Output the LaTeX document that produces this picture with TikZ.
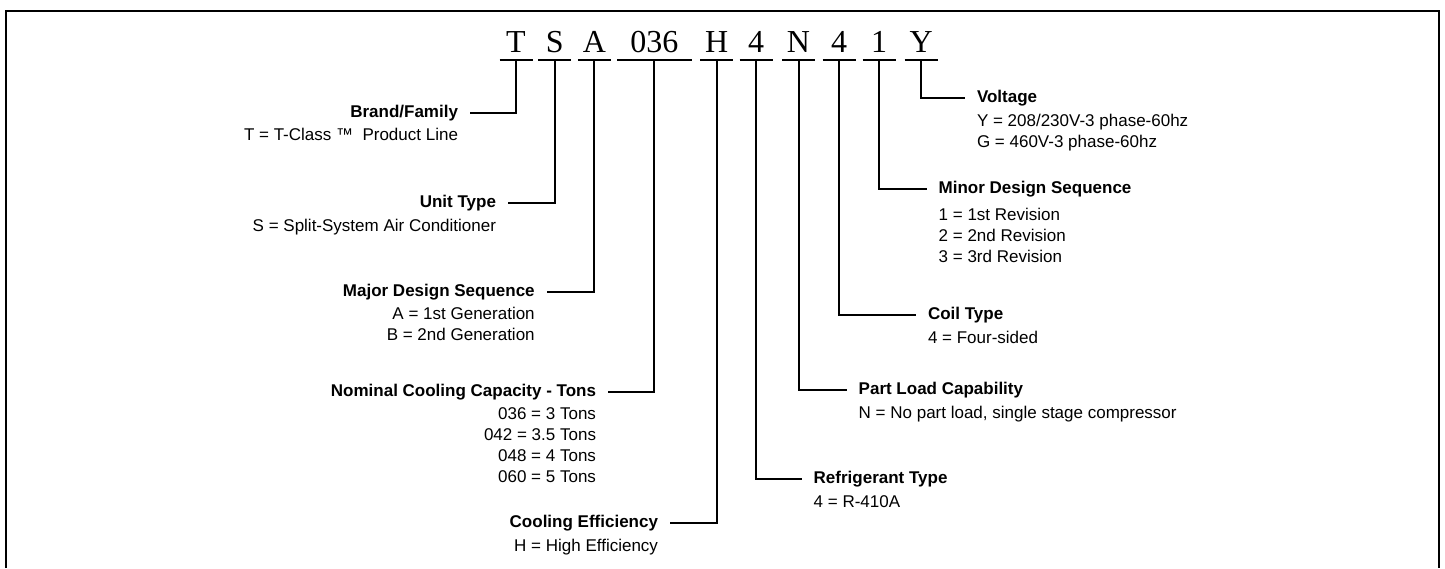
\documentclass[tikz,border=0pt]{standalone}
\usepackage{fontspec}
\setmainfont{Liberation Sans}
\newfontfamily\codefont{Liberation Serif}
\usetikzlibrary{positioning}

\begin{document}
\begin{tikzpicture}[x=0.5pt, y=-0.5pt, line width=1pt,
	digit/.style={font=\codefont\fontsize{16}{18}\selectfont, anchor=base, text depth=0pt, inner xsep=0pt, inner ysep=3.5pt, minimum width=15.5pt},
	title/.style={font=\bfseries\fontsize{8.5}{10.5}\selectfont, text height=6pt, text depth=1.5pt, inner xsep=5.5pt, inner ysep=0pt},
	sub/.style={font=\fontsize{8.5}{10.5}\selectfont, inner xsep=5.5pt, inner ysep=0pt}]
	\useasboundingbox (0,0) rectangle (1445,568);
	\draw (6,568) -- (6,11) -- (1439,11) -- (1439,568);
	% model number
	\node[digit] (cT) at (516,52) {T};
	\node[digit] (cS) at (554.7,52) {S};
	\node[digit] (cA) at (594.3,52) {A};
	\node[digit, minimum width=36.3pt] (cCap) at (654.3,52) {036};
	\node[digit] (cH) at (716.7,52) {H};
	\node[digit] (cR) at (756,52) {4};
	\node[digit] (cN) at (798.5,52) {N};
	\node[digit] (cC) at (839,52) {4};
	\node[digit] (cM) at (879.2,52) {1};
	\node[digit] (cY) at (921.2,52) {Y};
	\foreach \n in {cT,cS,cA,cCap,cH,cR,cN,cC,cM,cY}
		\draw (\n.south west) -- (\n.south east);
	% left side
	\node[title, anchor=east] (brand) at (470,112.5) {Brand/Family};
	\node[sub, below left=3.3pt and 0pt of brand.south east] (brandsub) {T = T-Class ™~ Product Line};
	\node[title, anchor=east] (unit) at (508,203.3) {Unit Type};
	\node[sub, below left=3.3pt and 0pt of unit.south east] (unitsub) {S = Split-System Air Conditioner};
	\node[title, anchor=east] (major) at (546.7,291.5) {Major Design Sequence};
	\node[sub, align=right, below left=3.3pt and 0pt of major.south east] (majorsub) {A = 1st Generation\\B = 2nd Generation};
	\node[title, anchor=east] (cap) at (608,391.7) {Nominal Cooling Capacity - Tons};
	\node[sub, align=right, below left=3.3pt and 0pt of cap.south east] (capsub) {036 = 3 Tons\\042 = 3.5 Tons\\048 = 4 Tons\\060 = 5 Tons};
	\node[title, anchor=east] (eff) at (670,522.7) {Cooling Efficiency};
	\node[sub, below left=3.3pt and 0pt of eff.south east] (effsub) {H = High Efficiency};
	% right side
	\node[title, anchor=west] (volt) at (965,98.3) {Voltage};
	\node[sub, align=left, below right=3.3pt and 0pt of volt.south west] (voltsub) {Y = 208/230V-3 phase-60hz\\G = 460V-3 phase-60hz};
	\node[title, anchor=west] (minor) at (926.7,189.3) {Minor Design Sequence};
	\node[sub, align=left, below right=4.5pt and 0pt of minor.south west] (minorsub) {1 = 1st Revision\\2 = 2nd Revision\\3 = 3rd Revision};
	\node[title, anchor=west] (coil) at (916,315) {Coil Type};
	\node[sub, below right=3.3pt and 0pt of coil.south west] (coilsub) {4 = Four-sided};
	\node[title, anchor=west] (load) at (846.7,390) {Part Load Capability};
	\node[sub, below right=3.3pt and 0pt of load.south west] (loadsub) {N = No part load, single stage compressor};
	\node[title, anchor=west] (refr) at (801.7,479.3) {Refrigerant Type};
	\node[sub, below right=3.3pt and 0pt of refr.south west] (refrsub) {4 = R-410A};
	% leaders
	\draw (cT.south) |- (brand.east);
	\draw (cS.south) |- (unit.east);
	\draw (cA.south) |- (major.east);
	\draw (cCap.south) |- (cap.east);
	\draw (cH.south) |- (eff.east);
	\draw (cR.south) |- (refr.west);
	\draw (cN.south) |- (load.west);
	\draw (cC.south) |- (coil.west);
	\draw (cM.south) |- (minor.west);
	\draw (cY.south) |- (volt.west);
\end{tikzpicture}
\end{document}
